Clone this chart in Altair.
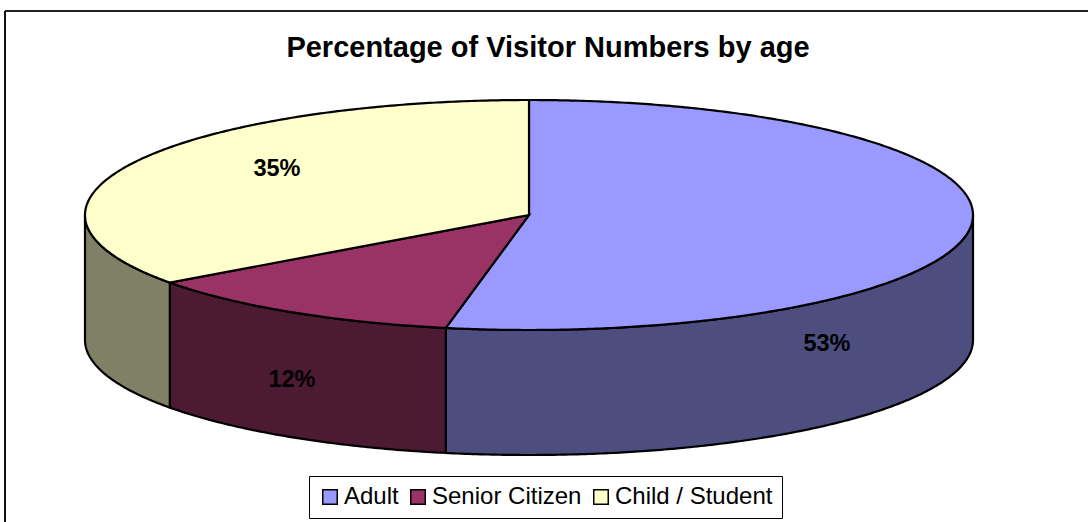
import math
import altair as alt

# Share of visitors by age group, clockwise from the top of the pie
categories = ["Adult", "Senior Citizen", "Child / Student"]
shares = [53, 12, 35]
share_labels = ["53%", "12%", "35%"]
top_colors = ["#9999FF", "#993366", "#FFFFCC"]
wall_colors = ["#4D4D80", "#4D1A33", "#808066"]

# Geometry of the tilted disc, in canvas pixels
W, H = 1088, 522
CX, CY, RX, RY, DEPTH = 529, 215, 444, 115, 125
LABEL_POS = [(827, 344), (292, 380), (277, 169)]
FONT = "Liberation Sans"


def rim(deg, drop=0):
    t = math.radians(deg)
    return [CX + RX * math.sin(t), CY - RY * math.cos(t) + drop]


def sweep(a, b, drop=0):
    n = max(2, int(abs(b - a) * 2))
    return [rim(a + (b - a) * i / n, drop) for i in range(n + 1)]


def feature(ring, name):
    return {
        "type": "Feature",
        "properties": {"name": name},
        "geometry": {"type": "Polygon", "coordinates": [ring + [ring[0]]]},
    }


tops, walls = [], []
start = 0.0
for name, share in zip(categories, shares):
    end = start + share * 3.6
    tops.append(feature([[CX, CY]] + sweep(start, end), name))
    # only the front half of the disc shows a wall
    a, b = max(start, 90), min(end, 270)
    if a < b:
        walls.append(feature(sweep(a, b) + sweep(b, a, DEPTH), name))
    start = end

projection = alt.Projection(type="identity", scale=1, translate=[0, 0])

layers = []
for wall in walls:
    fill = wall_colors[categories.index(wall["properties"]["name"])]
    layers.append(
        alt.Chart(alt.Data(values=[wall]))
        .mark_geoshape(fill=fill, stroke="black", strokeWidth=2.2)
        .project(**projection.to_dict())
    )

top_layer = (
    alt.Chart(alt.Data(values=tops))
    .mark_geoshape(stroke="black", strokeWidth=2.2)
    .encode(
        fill=alt.Fill(
            "properties.name:N",
            scale=alt.Scale(domain=categories, range=top_colors),
            sort=categories,
            legend=alt.Legend(
                title=None,
                orient="none",
                legendX=309,
                legendY=476,
                direction="horizontal",
                columns=3,
                columnPadding=7,
                padding=9,
                strokeColor="black",
                fillColor="white",
                symbolType="square",
                symbolSize=210,
                symbolStrokeColor="black",
                symbolStrokeWidth=1.5,
                labelFont=FONT,
                labelFontSize=24,
                labelColor="black",
                labelOffset=2,
                labelLimit=300,
            ),
        )
    )
    .project(**projection.to_dict())
)
layers.append(top_layer)

# Percentage labels
for text, (lx, ly) in zip(share_labels, LABEL_POS):
    layers.append(
        alt.Chart(alt.Data(values=[{"label": text}]))
        .mark_text(font=FONT, fontSize=23.5, fontWeight="bold", color="black", baseline="middle")
        .encode(text="label:N", x=alt.value(lx), y=alt.value(ly))
    )

# Chart-area border: only its top and left edges fall inside the canvas
layers.append(
    alt.Chart(alt.Data(values=[{"edge": "top"}]))
    .mark_rule(color="#222222", strokeWidth=2)
    .encode(x=alt.value(5), x2=alt.value(W), y=alt.value(11))
)
layers.append(
    alt.Chart(alt.Data(values=[{"edge": "left"}]))
    .mark_rule(color="#111111", strokeWidth=2)
    .encode(x=alt.value(5), y=alt.value(11), y2=alt.value(H))
)

chart = (
    alt.layer(*layers)
    .properties(
        width=W,
        height=H,
        padding=0,
        autosize=alt.AutoSizeParams(type="none"),
        background="white",
        title=alt.TitleParams(
            "Percentage of Visitor Numbers by age",
            font=FONT,
            fontSize=29,
            fontWeight="bold",
            color="black",
            anchor="middle",
            dx=4,
            offset=-77,
            baseline="middle",
        ),
    )
    .configure_view(stroke=None)
)

chart.save("out.html", embed_options={"renderer": "svg", "actions": False})
